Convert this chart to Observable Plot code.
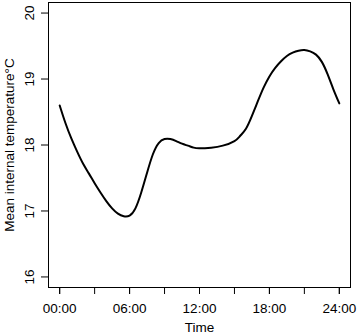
<!DOCTYPE html>
<html>
<head>
<meta charset="utf-8">
<script src="https://cdn.jsdelivr.net/npm/d3@7"></script>
<script src="https://cdn.jsdelivr.net/npm/@observablehq/plot@0.6"></script>
<style>
  html, body { margin: 0; padding: 0; background: #fff; }
  #chart svg { display: block; }
</style>
</head>
<body>
<div id="chart"></div>
<script>
const hours = [0,0.5,1,1.5,2,2.5,3,3.5,4,4.5,5,5.5,6,6.5,7,7.5,8,8.5,9,9.5,10,10.5,11,11.5,12,13,14,15,15.5,16,16.5,17,17.5,18,18.5,19,19.5,20,20.5,21,21.5,22,22.5,23,23.5,24];
const temps = [18.60,18.33,18.10,17.90,17.72,17.57,17.42,17.28,17.15,17.04,16.96,16.92,16.93,17.04,17.28,17.58,17.86,18.03,18.09,18.09,18.06,18.02,17.99,17.96,17.95,17.96,17.99,18.06,18.14,18.25,18.44,18.66,18.87,19.04,19.17,19.27,19.35,19.40,19.43,19.44,19.42,19.37,19.26,19.07,18.84,18.63];
const xMinorTicks = [0,3,6,9,12,15,18,21,24];
const xLabelTicks = [0,6,12,18,24];
const xTickLabels = ["00:00","06:00","12:00","18:00","24:00"];
const yTicks = [16,17,18,19,20];
const yTitle = "Mean internal temperature°C";

const data = hours.map((h, i) => ({h, t: temps[i]}));
const font = "Liberation Sans, Arial, sans-serif";

const chart = Plot.plot({
  width: 358,
  height: 333,
  marginLeft: 48,
  marginRight: 8,
  marginTop: 2,
  marginBottom: 46,
  style: {fontFamily: font, fontSize: "13.5px", color: "#000", background: "#fff"},
  x: {domain: [-0.96, 24.96]},
  y: {domain: [15.84, 20.16]},
  marks: [
    Plot.frame({stroke: "#000", strokeWidth: 1}),
    Plot.axisX({ticks: xMinorTicks, tickSize: 7, tickFormat: () => "", label: null, stroke: "#000"}),
    Plot.axisX({ticks: xLabelTicks, tickSize: 7, tickPadding: 9,
      tickFormat: (d) => xTickLabels[xLabelTicks.indexOf(d)],
      label: "Time", labelAnchor: "center", labelArrow: "none", labelOffset: 44, fill: "#000", fontSize: 13.5}),
    Plot.axisY({ticks: yTicks, tickSize: 7, tickFormat: () => "", label: null, stroke: "#000"}),
    Plot.text(yTicks, {y: (d) => d, text: (d) => String(d), frameAnchor: "left", dx: -19, rotate: -90,
      textAnchor: "middle", lineAnchor: "middle", fill: "#000", fontSize: 13.5}),
    Plot.text([yTitle], {text: (d) => d, frameAnchor: "left", dx: -39, rotate: -90,
      textAnchor: "middle", lineAnchor: "middle", fill: "#000", fontSize: 13.5}),
    Plot.line(data, {x: "h", y: "t", curve: "natural", stroke: "#000", strokeWidth: 2})
  ]
});
document.getElementById("chart").append(chart);
</script>
</body>
</html>
